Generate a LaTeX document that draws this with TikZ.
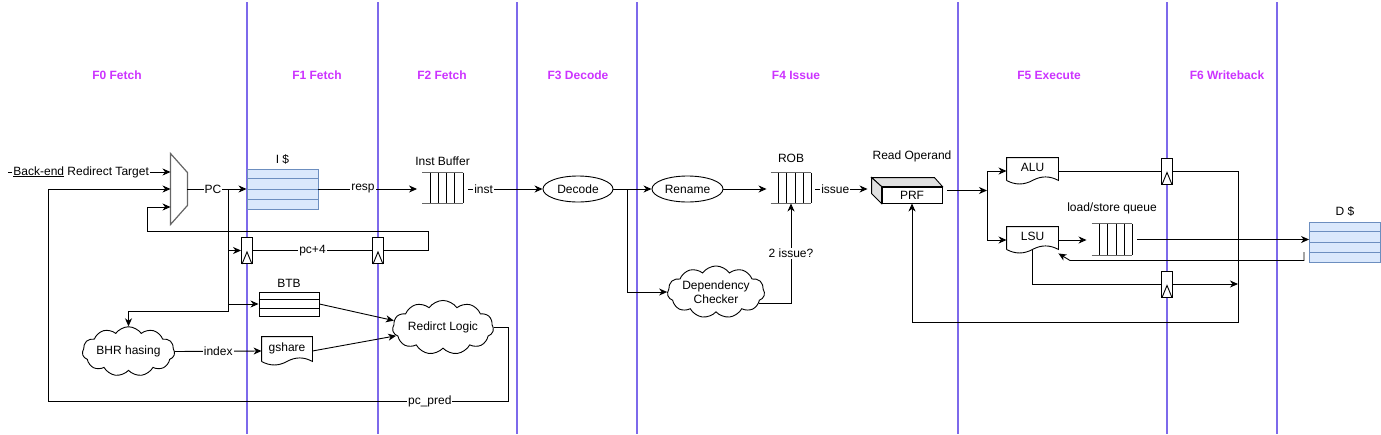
\documentclass[tikz,border=0pt]{standalone}
\usepackage{fontspec}
\setmainfont{Liberation Sans}
\usetikzlibrary{calc,arrows.meta,shapes.geometric,shapes.symbols}
\tikzset{>={Stealth[length=8pt,width=7pt,inset=2.5pt]}}
\definecolor{stagecol}{RGB}{204,51,255}
\definecolor{pipecol}{RGB}{125,105,235}
\definecolor{cachefill}{RGB}{218,232,252}
\definecolor{cachedraw}{RGB}{108,142,191}
\definecolor{muxdraw}{RGB}{102,102,102}
\definecolor{cubefill}{RGB}{224,224,224}
% queue: gray rails, black slots
\newcommand{\fifo}[1]{%
  \draw[muxdraw] (#1.north west) -- (#1.north east) (#1.south west) -- (#1.south east);
  \foreach \f in {0.2,0.4,0.6,0.8,1}
    \draw ($(#1.north west)!\f!(#1.north east)$) -- ($(#1.south west)!\f!(#1.south east)$);}
% table rows inside a box
\newcommand{\rows}[3]{%
  \foreach \f in {#2}
    \draw[#3] ($(#1.north west)!\f!(#1.south west)$) -- ($(#1.north east)!\f!(#1.south east)$);}
% clock triangle of a flop
\newcommand{\clk}[1]{%
  \draw ($(#1.south west)+(1,0)$) -- ($(#1.south)+(0,-12)$) -- ($(#1.south east)+(-1,0)$);}
% document shape with wavy bottom
\newcommand{\docshape}[1]{%
  \draw[fill=white] ($(#1.south west)+(0,-4)$) -- (#1.north west) -- (#1.north east) -- ($(#1.south east)+(0,-4)$)
    .. controls ($(#1.south east)!1/6!(#1.south west)+(0,-8.7)$) and ($(#1.south east)!1/3!(#1.south west)+(0,-8.7)$) .. ($(#1.south)+(0,-4)$)
    .. controls ($(#1.south east)!2/3!(#1.south west)+(0,0.7)$) and ($(#1.south east)!5/6!(#1.south west)+(0,0.7)$) .. ($(#1.south west)+(0,-4)$);}

\begin{document}
\begin{tikzpicture}[x=1pt,y=-1pt,line width=0.9pt,
  every node/.style={font=\fontsize{12}{14}\selectfont},
  stage/.style={text=stagecol,font=\fontsize{12}{14}\selectfont\bfseries},
  pipe/.style={pipecol,line width=1.8pt},
  lbl/.style={fill=white,inner sep=1pt},
  cache/.style={draw=cachedraw,fill=cachefill,minimum width=71pt,minimum height=40pt,inner sep=0pt},
  fifobox/.style={minimum width=40pt,minimum height=30pt,inner sep=0pt},
  flop/.style={draw,fill=white,minimum width=11pt,minimum height=26pt,inner sep=0pt},
  docbox/.style={minimum width=51pt,minimum height=26pt,inner sep=0pt,text depth=7pt},
  unit/.style={draw,ellipse,minimum width=70pt,minimum height=26pt,inner sep=0pt},
  puff/.style={draw,cloud,cloud puffs=11,cloud puff arc=110,aspect=2.4,inner sep=0pt,fill=white}]
  \useasboundingbox (0,0) rectangle (1381,434);
  % pipeline stages
  \foreach \x in {247,378,517,637,958,1167,1277}
    \draw[pipe] (\x,2) -- (\x,434);
  \foreach \x/\t in {117/F0 Fetch,317/F1 Fetch,442/F2 Fetch,578/F3 Decode,796/F4 Issue,1049/F5 Execute,1227/F6 Writeback}
    \node[stage] at (\x,75) {\t};

  % fetch blocks
  \node[minimum width=16pt,minimum height=70pt,inner sep=0pt] (mux) at (179,189) {};
  \draw[muxdraw,line width=1.2pt] (mux.north west) -- ($(mux.north east)+(0,19)$)
    -- ($(mux.south east)+(0,-19)$) -- (mux.south west) -- cycle;
  \node[cache,label={above:I \$}] (icache) at (282.5,189) {};
  \rows{icache}{0.25,0.5,0.75}{cachedraw}
  \node[fifobox,label={[label distance=3pt]above:Inst Buffer}] (ibuf) at (442.5,188) {};
  \fifo{ibuf}
  \node[flop] (flopA) at (247,250.5) {}; \clk{flopA}
  \node[flop] (flopB) at (378,250.5) {}; \clk{flopB}
  \node[draw,minimum width=60pt,minimum height=24pt,inner sep=0pt,label={above:BTB}] (btb) at (289,304) {};
  \rows{btb}{0.333,0.667}{black}
  \node[docbox,minimum width=50pt,minimum height=28pt] (gshare) at (287,351) {gshare};
  \docshape{gshare}
  \node at (gshare) [docbox,minimum width=50pt,minimum height=28pt] {gshare};
  \node[puff,minimum width=90pt,minimum height=37pt] (bhr) at (128.5,351.5) {BHR hasing};
  \node[puff,minimum width=100pt,minimum height=39pt] (redir) at (443,327.5) {Redirct Logic};

  % decode / issue blocks
  \node[unit] (decode) at (578,189) {Decode};
  \node[unit,minimum width=71pt] (rename) at (687.5,189) {Rename};
  \node[fifobox,label={[label distance=6pt]above:ROB}] (rob) at (791,188) {};
  \fifo{rob}
  \node[puff,minimum width=88pt,minimum height=44pt,align=center] (dep) at (716,292) {Dependency\\Checker};
  \node[draw,minimum width=60pt,minimum height=16pt,inner sep=0pt,label={[label distance=21pt]above:Read Operand}] (prf) at (912,195) {PRF};
  \draw[fill=cubefill] (prf.north west) -- ($(prf.north west)+(-10,-9)$) -- ($(prf.north east)+(-8,-9)$)
    -- (prf.north east) -- cycle;
  \draw[fill=cubefill] (prf.north west) -- ($(prf.north west)+(-10,-9)$) -- ($(prf.south west)+(-10,-10)$)
    -- (prf.south west) -- cycle;

  % execute / writeback blocks
  \node[docbox] (alu) at (1032.5,171) {ALU};
  \docshape{alu}
  \node at (alu) [docbox] {ALU};
  \node[docbox] (lsu) at (1032.5,240) {LSU};
  \docshape{lsu}
  \node at (lsu) [docbox] {LSU};
  \node[fifobox,minimum height=31pt,label={[label distance=6pt]above:load/store queue}] (lsq) at (1112,239.5) {};
  \fifo{lsq}
  \node[cache,label={[label distance=1pt]above:D \$}] (dcache) at (1345,242) {};
  \rows{dcache}{0.25,0.5,0.75}{cachedraw}
  \node[flop] (flopC) at (1167,171) {}; \clk{flopC}
  \node[flop] (flopD) at (1167,284) {}; \clk{flopD}

  % fetch wiring
  \coordinate (redirin) at (8,172);
  \draw[->] (redirin) -- node[lbl,pos=0.45]{\underline{Back-end} Redirect Target} ($(mux.west)+(0,-17)$);
  \draw[->] (mux.east) -- node[lbl,pos=0.43]{PC} (mux.east -| icache.west);
  \coordinate (pcfork) at (228,189);
  \coordinate (bhrturn) at (228,311);
  \draw[->] (pcfork) |- (flopA.west);
  \draw[->] (pcfork) |- (btb.west);
  \draw[->] (pcfork) -- (bhrturn) -| (bhr.north);
  \draw (flopA.east) -- node[lbl]{pc+4} (flopB.west);
  \coordinate (loopR) at (428,231);
  \coordinate (loopL) at (147,231);
  \draw[->] (flopB.east) -| (loopR) -- (loopL) |- ($(mux.west)+(0,18)$);
  \draw[->,shorten >=5pt] (icache.east) -- node[lbl,pos=0.43]{resp} (icache.east -| ibuf.west);
  \draw[->,shorten <=5pt] (decode.west -| ibuf.east) -- node[lbl,pos=0.26]{inst} (decode.west);
  % branch prediction
  \draw[->] (bhr.east) -- node[lbl]{index} (gshare.west);
  \draw[->] (btb.east) -- (redir.172);
  \draw[->] (gshare.east) -- (redir.190);
  \coordinate (predR) at (508,401);
  \coordinate (predL) at (48,401);
  \draw[->] (redir.east) -| (predR) -- node[lbl,pos=0.17]{pc\_pred} (predL) |- (mux.west);

  % decode / issue wiring
  \draw[->] (decode.east) -- (rename.west);
  \coordinate (decfork) at (627,189);
  \draw[->] (decfork) |- (dep.west);
  \draw[->,shorten >=4pt] (rename.east) -- (rename.east -| rob.west);
  \draw[->] (dep.-15) -| node[lbl,pos=0.75]{2 issue?} (rob.south);
  \draw[->,shorten <=4pt,shorten >=14pt] (rename.east -| rob.east) -- node[lbl,pos=0.34]{issue} (rename.east -| prf.west);

  % execute / writeback wiring
  \coordinate (exfork) at (987,190.5);
  \draw[->,shorten <=5pt] (exfork -| prf.east) -- (exfork);
  \draw[->] (exfork) |- (alu.west);
  \draw[->] (exfork) |- (lsu.west);
  \draw (alu.east) -- (flopC.west);
  \coordinate (wbtop) at (1238,171);
  \coordinate (wbbot) at (1238,322);
  \draw[->] (flopC.east) -- (wbtop) -- (wbbot) -| (prf.south);
  \draw[->,shorten >=5pt] (lsu.east) -- (lsu.east -| lsq.west);
  \draw[->,shorten <=5pt] (lsq.east) -- (lsq.east -| dcache.west);
  \coordinate (dret) at (1304,252);
  \coordinate (dretA) at (1304,260.5);
  \coordinate (dretB) at (1070,260.5);
  \draw[->] (dret) -- (dretA) -- (dretB) -- (lsu.south east);
  \draw ($(lsu.south)+(0,-4)$) |- (flopD.west);
  \draw[->] (flopD.east) -- (flopD.east -| wbtop);
\end{tikzpicture}
\end{document}
